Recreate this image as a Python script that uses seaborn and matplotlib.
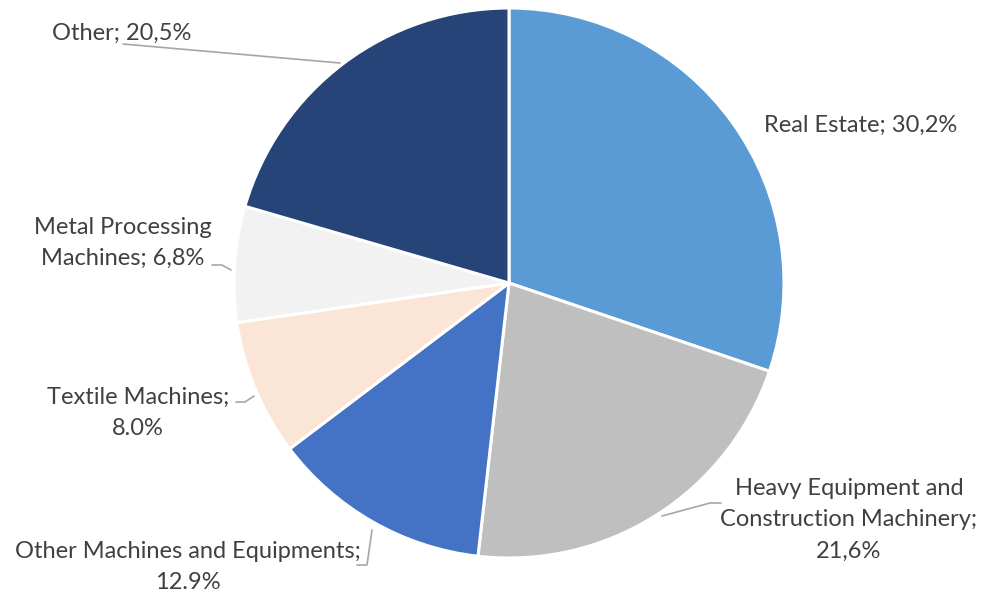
import matplotlib
matplotlib.use("Agg")
import matplotlib.pyplot as plt
import seaborn as sns

categories = ["Real Estate", "Heavy Equipment and\nConstruction Machinery;",
              "Other Machines and Equipments;", "Textile Machines;",
              "Metal Processing\nMachines;", "Other;"]
shares = [30.2, 21.6, 12.9, 8.0, 6.8, 20.5]
share_labels = ["30,2%", "21,6%", "12.9%", "8.0%", "6,8%", "20,5%"]
colors = ["#5B9BD5", "#BFBFBF", "#4472C4", "#FBE5D6", "#F2F2F2", "#264478"]

sns.set_style("white")
plt.rcParams["font.family"] = ["Lato", "DejaVu Sans"]

fig = plt.figure(figsize=(9.97, 5.99), dpi=100)
ax = fig.add_axes([0, 0, 1, 1])

# pie drawn in pixel-like coords (y down), so flip direction accordingly
ax.pie(shares, colors=colors, startangle=-90, counterclock=True,
       center=(509, 283), radius=275, frame=True,
       wedgeprops=dict(edgecolor="white", linewidth=2.2))
ax.set_xlim(0, 997)
ax.set_ylim(599, 0)
ax.set_aspect("equal")
ax.axis("off")

txt = dict(color="#404040", fontsize=17, ha="center", va="center",
           linespacing=1.6)
lead = dict(color="#A6A6A6", lw=1.2)

# label text and leader lines (layout positions)
ax.text(861, 125, categories[0] + "; " + share_labels[0], **txt)
ax.text(849, 520, categories[1] + "\n" + share_labels[1], **txt)
ax.plot([721, 710, 662], [503, 503, 516], **lead)
ax.text(188, 567, categories[2] + "\n" + share_labels[2], **txt)
ax.plot([357, 367, 372], [565, 565, 530], **lead)
ax.text(138, 413, categories[3] + "\n" + share_labels[3], **txt)
ax.plot([236, 245, 254], [402, 402, 396], **lead)
ax.text(123, 243, categories[4] + " " + share_labels[4], **txt)
ax.plot([212, 222, 231], [265, 265, 270], **lead)
ax.text(122, 33, categories[5] + " " + share_labels[5], **txt)
ax.plot([123, 340], [44, 63], **lead)

fig.savefig("out.png", dpi=100, facecolor="white")
